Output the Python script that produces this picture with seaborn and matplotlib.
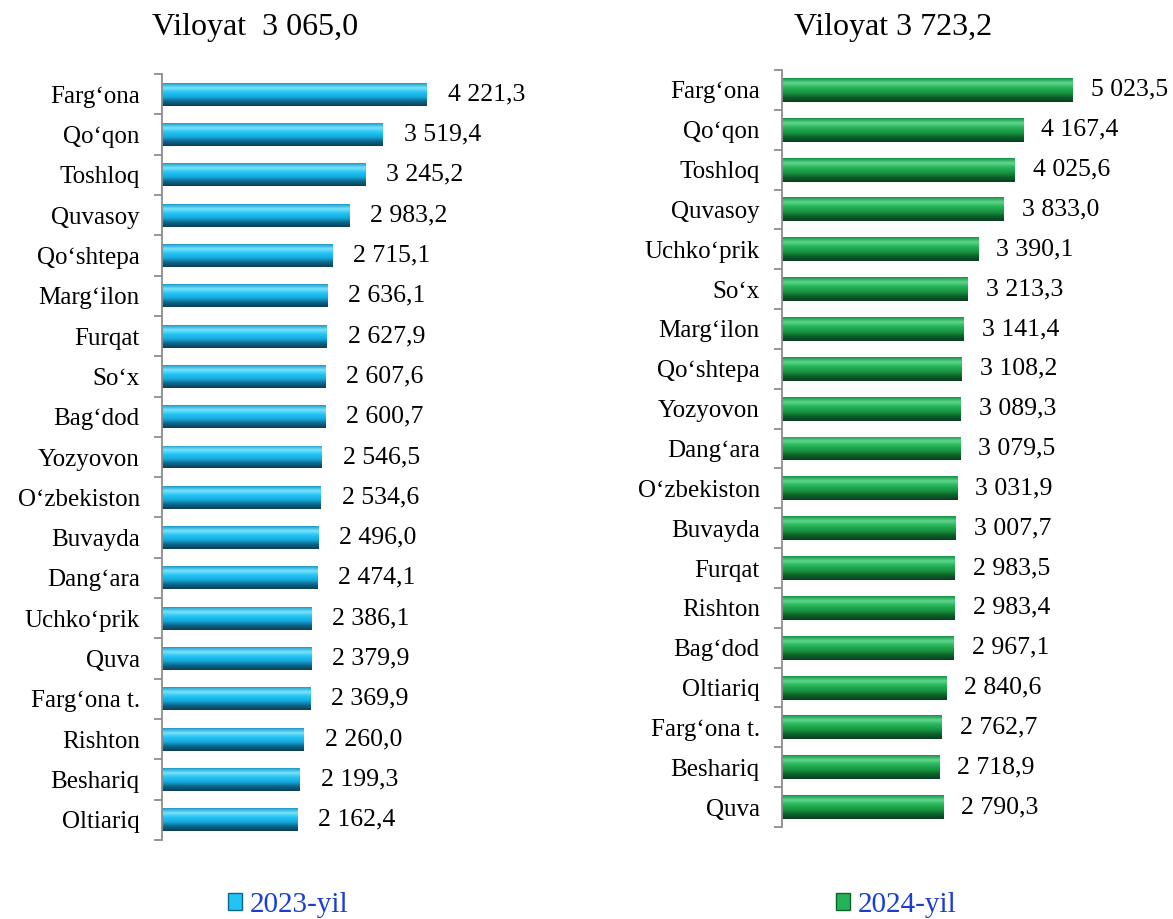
import numpy as np
import pandas as pd
import matplotlib
matplotlib.use("Agg")
import matplotlib.pyplot as plt
from matplotlib.colors import LinearSegmentedColormap
from matplotlib.patches import Patch
from matplotlib.ticker import FixedLocator
import seaborn as sns

# Data
districts_2023 = ["Farg‘ona", "Qo‘qon", "Toshloq", "Quvasoy", "Qo‘shtepa", "Marg‘ilon",
                  "Furqat", "So‘x", "Bag‘dod", "Yozyovon", "O‘zbekiston", "Buvayda",
                  "Dang‘ara", "Uchko‘prik", "Quva", "Farg‘ona t.", "Rishton", "Beshariq",
                  "Oltiariq"]
values_2023 = [4221.3, 3519.4, 3245.2, 2983.2, 2715.1, 2636.1, 2627.9, 2607.6, 2600.7,
               2546.5, 2534.6, 2496.0, 2474.1, 2386.1, 2379.9, 2369.9, 2260.0, 2199.3,
               2162.4]

districts_2024 = ["Farg‘ona", "Qo‘qon", "Toshloq", "Quvasoy", "Uchko‘prik", "So‘x",
                  "Marg‘ilon", "Qo‘shtepa", "Yozyovon", "Dang‘ara", "O‘zbekiston",
                  "Buvayda", "Furqat", "Rishton", "Bag‘dod", "Oltiariq", "Farg‘ona t.",
                  "Beshariq", "Quva"]
values_2024 = [5023.5, 4167.4, 4025.6, 3833.0, 3390.1, 3213.3, 3141.4, 3108.2, 3089.3,
               3079.5, 3031.9, 3007.7, 2983.5, 2983.4, 2967.1, 2840.6, 2762.7, 2718.9,
               2790.3]

titles = ["Viloyat  3 065,0", "Viloyat 3 723,2"]
legend_labels = ["2023-yil", "2024-yil"]

sns.set_style("white")
plt.rcParams["font.family"] = ["Liberation Serif", "DejaVu Serif"]
plt.rcParams["text.color"] = "black"
plt.rcParams["ytick.labelcolor"] = "black"

# cylinder shading: top edge, highlight, body, shadow, bottom edge
blue_cyl = ["#1a9ccc", "#7ae2fb", "#22c4f4", "#17abdd", "#0d668a", "#0a405a"]
green_cyl = ["#169346", "#5fd68c", "#25b358", "#189841", "#0d622c", "#08401d"]


def fmt(v):
    s = f"{v:,.1f}".replace(",", " ").replace(".", ",")
    return s


def draw_panel(ax, names, vals, colors, xmax, width, offset):
    df = pd.DataFrame({"district": names, "value": vals})
    sns.barplot(data=df, x="value", y="district", orient="h", color=colors[2],
                width=width, ax=ax, saturation=1)
    cmap = LinearSegmentedColormap.from_list("cyl", colors)
    grad = np.linspace(0, 1, 64).reshape(-1, 1)
    for p in ax.patches:
        x0, y0 = p.get_x(), p.get_y()
        w, h = p.get_width(), p.get_height()
        im = ax.imshow(grad, cmap=cmap, aspect="auto", origin="lower",
                       extent=(x0, x0 + w, y0, y0 + h), zorder=p.get_zorder() + 0.1)
        im.set_clip_path(p)
    n = len(names)
    ax.set_xlim(0, xmax)
    ax.set_ylim(n - 0.5, -0.5)
    for i, v in enumerate(vals):
        ax.annotate(fmt(v), (v, i), xytext=(offset, 0), textcoords="offset points",
                    ha="left", va="center", fontsize=18.5, color="black")
    ax.set_xlabel("")
    ax.set_ylabel("")
    ax.set_xticks([])
    ax.tick_params(axis="y", which="major", length=0, pad=16, labelsize=18,
                   labelcolor="black")
    ax.yaxis.set_minor_locator(FixedLocator(np.arange(-0.5, n, 1.0)))
    ax.tick_params(axis="y", which="minor", length=6, width=1.3, color="#8c8c8c", left=True)
    for s in ["top", "right", "bottom"]:
        ax.spines[s].set_visible(False)
    ax.spines["left"].set_color("#8c8c8c")
    ax.spines["left"].set_linewidth(1.3)


fig = plt.figure(figsize=(11.73, 9.19), dpi=100)
W, H = 1173, 919
ax1 = fig.add_axes([162 / W, 1 - 840 / H, 301 / W, 766 / H])
ax2 = fig.add_axes([782 / W, 1 - 827 / H, 347 / W, 757 / H])

draw_panel(ax1, districts_2023, values_2023, blue_cyl, 4800, 0.57, 15)
draw_panel(ax2, districts_2024, values_2024, green_cyl, 6000, 0.6, 13)

fig.text(255 / W, 1 - 28 / H, titles[0], ha="center", va="center", fontsize=23)
fig.text(893 / W, 1 - 28 / H, titles[1], ha="center", va="center", fontsize=23)

for lab, cols, xc in [(legend_labels[0], blue_cyl, 288), (legend_labels[1], green_cyl, 896)]:
    fig.legend(handles=[Patch(facecolor=cols[2], edgecolor=cols[4], label=lab)],
               loc="center", bbox_to_anchor=(xc / W, 1 - 905 / H), frameon=False,
               fontsize=21, labelcolor="#1a3fd0", handlelength=0.5, handleheight=0.5,
               handletextpad=0.25, borderaxespad=0)

fig.savefig("out.png", dpi=100)
